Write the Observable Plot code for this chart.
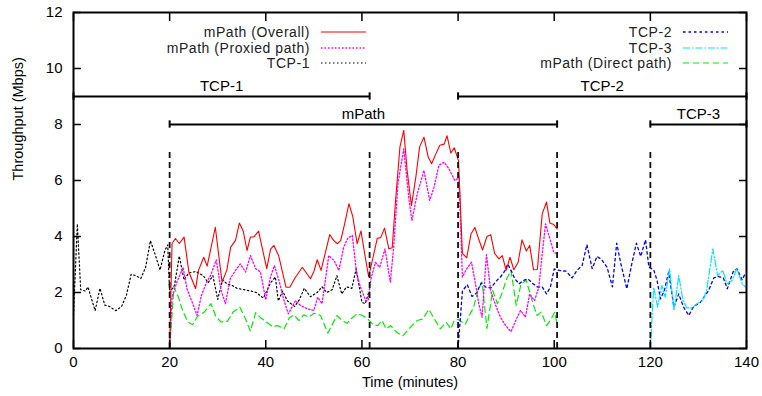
<!DOCTYPE html>
<html><head><meta charset="utf-8">
<script src="https://cdn.jsdelivr.net/npm/d3@7"></script>
<script src="https://cdn.jsdelivr.net/npm/@observablehq/plot@0.6"></script>
<style>body{margin:0;background:#fff;} #chart{width:762px;height:396px;}</style>
</head><body><div id="chart"></div>
<script>
// ---------- data ----------
const tcp1Time = [0,0.8,1.5,2.5,3,4.5,5.5,6.5,7.5,8.8,10,11,12,13,14,15,16,17,18,19,19.6,20,21,22,23,24,25.5,27,28,29,30,31,32,33,34,35.5,37,38,39.5,41,42,42.6,43.5,44.5,46,47,48,49.3,50.7,51.7,52.7,53.8,54.8,55.8,56.8,57.9,58.8,60,60.7,61.4];
const tcp1Mbps = [1.2,4.45,2.1,2.05,2.2,1.35,2.15,1.55,1.5,1.35,1.5,1.9,2.65,2.6,2.5,2.9,3.85,3.35,2.8,3.5,3.7,2.0,2.25,3.3,2.45,2.7,2.75,2.6,2.35,2.6,1.75,2.45,2.3,2.25,2.15,2.1,2.05,2.0,1.8,2.35,2.55,1.7,2.05,1.7,1.5,1.75,2.15,1.85,2.0,2.2,2.0,2.1,2.6,1.95,2.2,2.15,2.85,1.65,1.6,2.0];

const overallTime = [20,20.5,21.2,22,23,24,25.4,26,27.1,27.8,29.5,30.9,31.9,32.7,33.7,34.5,35.3,36.1,36.8,37.5,38.5,40.2,41,41.7,42.7,44.2,45,46,47.6,49.3,50,50.7,51.5,53.3,54.1,54.9,55.6,56.4,57.3,58.1,59,59.8,60.7,61.4,62.3,63.2,63.9,64.7,65.6,66.3,67,67.9,68.7,69.4,70.3,71.2,72,72.9,73.8,74.5,75.4,76.2,77.1,77.7,78.5,79.2,80.1,80.9,81.8,82.7,83.5,84.3,85.1,86,86.8,87.6,88.5,89.2,90,90.8,91.6,92.5,93.3,94.2,94.9,95.7,96.5,97.5,98.4,99.1,99.9,100.6];
const overallMbps = [0,3.75,3.93,3.75,3.98,2.73,2.14,2.79,3.26,2.94,4.33,2.37,2.8,3.62,3.86,4.48,4.2,3.5,3.98,3.98,4.19,2.85,3.55,3.68,3.3,2.19,2.19,2.5,2.9,2.49,2.75,3.17,2.79,4.07,3.86,3.74,3.86,4.45,5.17,4.71,3.74,4.2,3.25,2.57,3.25,3.94,3.96,4.3,3.56,3.6,5.29,7.19,7.79,6.36,5.1,6.1,7.2,7.55,6.83,6.6,6.96,7.26,7.3,7.6,6.98,7.17,6.7,3.4,3.24,4.1,4.32,3.9,3.52,4.0,4.06,3.4,3.2,3.32,2.79,3.26,2.81,3.08,3.88,3.48,3.68,2.81,2.82,4.81,5.23,4.48,4.43,4.27];

const proxiedTime = [20,20.5,21.5,22.8,23.6,24.7,25.7,26.6,27.7,28.5,29.7,30.7,31.6,32.6,33.7,34.7,35.8,36.8,37.9,38.9,40,41,41.8,42.9,43.8,44.7,46.2,47.2,48.6,50,50.8,51.7,53.1,54.2,55.2,56.2,57.1,58,58.9,59.7,60.8,61.3,61.8,62.8,63.7,64.8,65.9,66.6,67.5,68.7,69.8,70.4,71.5,72.9,74.1,75,76,77.1,78.1,79.3,80.2,80.9,81.8,82.8,83.8,84.3,85,85.9,86.8,87.8,88.8,89.9,91,92,93,94,94.9,95.9,96.8,97.5,98.2,99.1,99.9,100.6];
const proxiedMbps = [0,1.83,2.37,2.9,2.13,1.65,1.18,1.89,2.37,2.6,3.17,2.07,1.6,2.49,2.79,3.02,2.73,3.32,2.85,2.73,1.74,2.57,2.96,2.33,1.71,1.24,1.71,1.54,1.42,1.36,1.83,1.6,3.32,3.14,2.79,3.62,3.95,4.04,2.67,2.19,1.71,1.71,2.43,3.08,2.9,3.56,2.37,3.62,5.9,7.13,5.29,4.57,5.52,6.36,5.29,5.76,6.54,6.65,6.42,6.0,6.1,2.55,2.85,3.08,2.13,1.6,1.12,3.35,2.05,1.55,1.12,0.82,0.6,1.0,1.36,1.12,1.95,1.71,2.19,3.38,4.45,3.92,3.44,3.38];

const directTime = [20,20.9,21.8,22.7,23.8,24.8,25.8,27.2,28.6,29.6,30.7,32,33.2,34.6,35.8,36.8,37.9,38.9,40.2,41.4,42.5,43.8,44.9,45.9,46.9,47.9,49,50,51.4,52.9,53.9,54.8,55.9,56.9,58,59,60.1,61.2,62.3,63.3,64.2,65,66,67.1,68.5,70.1,71.5,72.7,73.9,75,76.3,77.5,78.5,79.2,80.1,81.5,82.7,83.2,84.2,85,86,87.2,88.2,89.2,90,91,92.1,93.1,94.2,95.4,96.4,97.3,98.4,99.2,100.1,100.6];
const directMbps = [0,2.19,1.85,1.35,0.95,0.85,1.15,1.3,1.6,1.15,0.94,0.97,1.3,1.48,1.05,0.62,1.28,1.1,0.94,0.78,0.82,0.7,1.1,1.2,1.0,1.2,1.12,1.26,1.18,0.55,0.88,1.18,1.0,0.9,1.1,1.24,1.18,1.06,0.85,0.82,1.0,0.7,0.82,0.6,0.45,0.76,1.0,1.06,1.4,1.08,0.7,0.94,0.7,1.0,1.04,0.86,1.3,1.45,2.1,2.37,0.72,2.07,1.6,2.0,2.45,2.79,1.54,2.31,2.43,1.71,1.18,1.3,0.82,1.0,1.3,0.88];

const tcp2Time = [80,80.9,81.9,82.9,83.8,84.8,85.8,86.8,87.9,88.9,89.8,90.3,90.9,91.8,92.7,93.6,94.5,95.6,96.6,97.5,98.4,99.2,100,101.2,102.5,103.7,104.8,105.8,106.8,107.9,108.9,109.9,111,112.1,113,113.8,115.1,116.2,117.1,118,119,119.7,120.7,121.4,122.1,122.9,123.8,124.9,125.9,126.9,128,129,130.4,132.1,133.2,134.2,135.2,136,137.2,138,139.1,139.8];
const tcp2Mbps = [0,2.05,2.28,1.86,1.97,2.34,2.19,2.16,2.4,2.57,2.79,3.02,2.84,2.49,2.31,2.43,2.49,2.31,2.19,2.2,1.95,2.19,2.84,2.78,2.76,2.52,2.8,2.96,3.71,2.85,3.29,3.17,2.9,2.2,3.76,3.08,2.13,3.08,3.76,3.29,3.88,2.9,2.81,2.43,1.77,2.07,2.73,1.48,1.95,1.48,1.18,1.5,1.65,2.07,2.52,2.57,2.52,2.13,2.73,2.85,2.45,2.7];

const tcp3Time = [120,120.7,121.5,122.4,123.1,124,124.9,125.9,126.8,127.6,128.7,129.7,130.9,131.7,133,134,135.1,135.9,137,138,139.1,139.8];
const tcp3Mbps = [0,2.19,1.48,2.25,1.83,2.85,1.36,2.6,1.71,1.45,1.45,1.6,1.71,2.07,3.56,2.6,2.79,2.31,2.43,2.85,2.31,2.19];

const xTicks = [0,20,40,60,80,100,120,140];
const yTicks = [0,2,4,6,8,10,12];

const phaseLabels = ["TCP-1","mPath","TCP-2","TCP-3"];
const phaseStart  = [0,20,80,120];
const phaseEnd    = [61.6,100.6,140,140];
const phaseLevel  = [9,8,9,8];

const boundaryTimes = [20,61.6,80,100.6,120];
const boundaryTop = 7;

const seriesNames = ["mPath (Overall)","mPath (Proxied path)","TCP-1","TCP-2","TCP-3","mPath (Direct path)"];

// ---------- styles ----------
const styles = {
  "mPath (Overall)":      {stroke:"#ff0000", dash:null,        width:1.1},
  "mPath (Proxied path)": {stroke:"#ff00ff", dash:"1.5,2",     width:1.3},
  "TCP-1":                {stroke:"#000000", dash:"1.5,2.5",   width:1.2},
  "TCP-2":                {stroke:"#0000ff", dash:"2.5,3",     width:1.3},
  "TCP-3":                {stroke:"#00e5ff", dash:"7,2,1.5,2", width:1.2},
  "mPath (Direct path)":  {stroke:"#00ee00", dash:"6,4",       width:1.2}
};

const zip = (t, v) => t.map((x, i) => ({t: x, v: v[i]}));
const seriesData = {
  "mPath (Overall)": zip(overallTime, overallMbps),
  "mPath (Proxied path)": zip(proxiedTime, proxiedMbps),
  "TCP-1": zip(tcp1Time, tcp1Mbps),
  "TCP-2": zip(tcp2Time, tcp2Mbps),
  "TCP-3": zip(tcp3Time, tcp3Mbps),
  "mPath (Direct path)": zip(directTime, directMbps)
};
const phases = phaseLabels.map((l, i) => ({label: l, start: phaseStart[i], end: phaseEnd[i], level: phaseLevel[i], mid: (phaseStart[i] + phaseEnd[i]) / 2}));
const caps = phases.flatMap(p => [{t: p.start, level: p.level}, {t: p.end, level: p.level}]);

const drawOrder = ["TCP-1","mPath (Direct path)","TCP-2","TCP-3","mPath (Proxied path)","mPath (Overall)"];

const chart = Plot.plot({
  width: 762, height: 396,
  marginLeft: 73, marginRight: 16, marginTop: 12, marginBottom: 48,
  x: {domain: [0, 140]},
  y: {domain: [0, 12]},
  style: {fontFamily: "'Liberation Sans', Arial, sans-serif", fontSize: "15px", color: "#000", background: "#fff", overflow: "visible"},
  marks: [
    ...drawOrder.map(name => Plot.line(seriesData[name], {
      x: "t", y: "v", stroke: styles[name].stroke, strokeWidth: styles[name].width,
      strokeDasharray: styles[name].dash, curve: "linear"
    })),
    Plot.ruleX(boundaryTimes, {x: d => d, y1: 0, y2: boundaryTop, stroke: "#111", strokeWidth: 1.8, strokeDasharray: "6,4"}),
    Plot.ruleY(phases, {y: "level", x1: "start", x2: "end", stroke: "#000", strokeWidth: 2}),
    Plot.ruleX(caps, {x: "t", y1: d => d.level - 0.13, y2: d => d.level + 0.13, stroke: "#000", strokeWidth: 2}),
    Plot.text(phases, {x: "mid", y: "level", text: "label", dy: -10, fontSize: 15, fill: "#000"}),
    Plot.axisX({anchor: "bottom", ticks: xTicks, tickSize: -8, tickPadding: 16, label: null, strokeWidth: 1.5, fontSize: 15}),
    Plot.axisX({anchor: "top", ticks: xTicks, tickSize: -8, tickFormat: () => "", label: null, strokeWidth: 1.5}),
    Plot.axisY({anchor: "left", ticks: yTicks, tickSize: -8, tickPadding: 19, label: null, strokeWidth: 1.5, fontSize: 15}),
    Plot.axisY({anchor: "right", ticks: yTicks, tickSize: -8, tickFormat: () => "", label: null, strokeWidth: 1.5}),
    Plot.frame({stroke: "#000", strokeWidth: 2}),
    Plot.text(["Time (minutes)"], {frameAnchor: "bottom", dy: 38, fontSize: 14.5}),
    Plot.text(["Throughput (Mbps)"], {frameAnchor: "left", dx: -55, rotate: -90, fontSize: 14.5})
  ]
});
document.getElementById("chart").appendChild(chart);

// ---------- key (gnuplot-style, inside the frame) ----------
const keyBlocks = [
  {names: seriesNames.slice(0, 3), textEnd: 310, lineX1: 321, lineX2: 366},
  {names: seriesNames.slice(3, 6), textEnd: 672, lineX1: 683, lineX2: 728}
];
const keyRows = [32, 48, 63];
const svg = d3.select(chart);
const key = svg.append("g").attr("font-family", "'Liberation Sans', Arial, sans-serif").attr("font-size", 14).attr("letter-spacing", "0.55px");
keyBlocks.forEach(b => {
  b.names.forEach((name, i) => {
    key.append("text").attr("x", b.textEnd).attr("y", keyRows[i]).attr("text-anchor", "end")
      .attr("dominant-baseline", "central").attr("fill", "#222").text(name);
    key.append("line").attr("x1", b.lineX1).attr("x2", b.lineX2).attr("y1", keyRows[i]).attr("y2", keyRows[i])
      .attr("stroke", styles[name].stroke).attr("stroke-width", styles[name].width)
      .attr("stroke-dasharray", styles[name].dash);
  });
});
</script></body></html>
